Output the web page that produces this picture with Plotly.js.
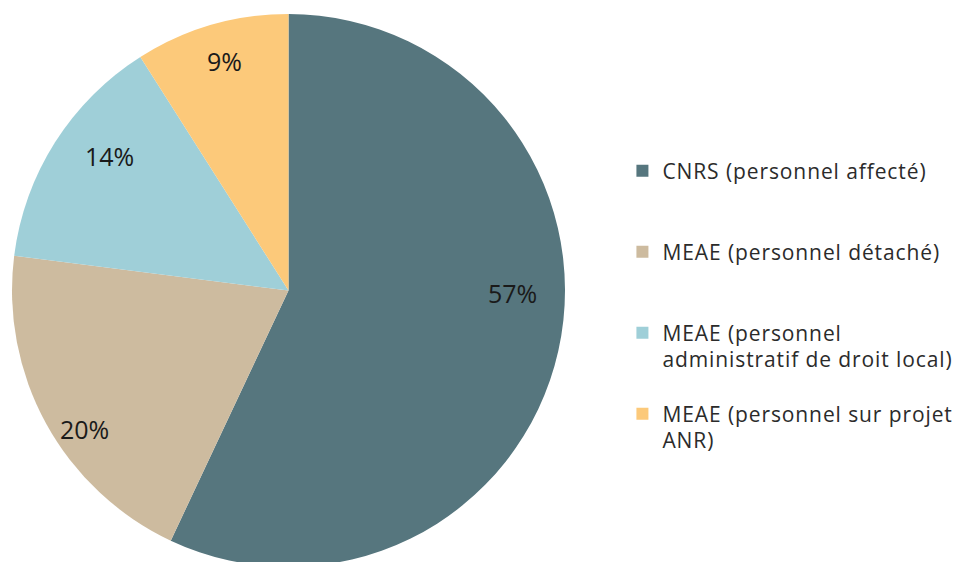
<!DOCTYPE html>
<html>
<head>
<meta charset="utf-8">
<script src="https://cdn.plot.ly/plotly-3.0.1.min.js"></script>
<style>html,body{margin:0;padding:0;background:#fff;overflow:hidden;}#chart{width:968px;height:568px;}</style>
</head>
<body>
<div id="chart"></div>
<script>
const categories = [
  "CNRS (personnel affecté)",
  "MEAE (personnel détaché)",
  "MEAE (personnel<br>administratif de droit local)",
  "MEAE (personnel sur projet<br>ANR)"
];
const values = [57, 20, 14, 9];
const colors = ["#56767e", "#cdbb9f", "#9fcfd8", "#fcc97a"];
const padLines = ["<br>&nbsp;<br>&nbsp;", "<br>&nbsp;<br>&nbsp;", "<br>&nbsp;", ""];

// label placement style (best-fit like): angle shift (deg) and radius fraction
const labelAngleShift = [-12, -5.4, 4.4, 0.7];
const labelRadiusFrac = [0.81, 0.89, 0.81, 0.86];

const W = 968, H = 568, MT = 13;
const domX = [12 / W, 565 / W];

function styledName(c) {
  return c.split("<br>").map(s => '<span style="font-size:21px;letter-spacing:0.9px">' + s + '</span>').join("<br>");
}

const trace = {
  type: "pie",
  labels: categories.map((c, i) => styledName(c) + padLines[i]),
  values: values,
  sort: false,
  direction: "clockwise",
  rotation: 0,
  marker: {colors: colors, line: {width: 0}},
  textinfo: "none",
  hoverinfo: "none",
  domain: {x: domX, y: [0, 1]}
};

// compute label positions from the data
const total = values.reduce((a, b) => a + b, 0);
const cx = (domX[0] + domX[1]) / 2 * W;
const plotH = H - MT;
const cy = MT + plotH / 2;
const R = Math.min((domX[1] - domX[0]) * W, plotH) / 2;
let cum = 0;
const annotations = values.map((v, i) => {
  const mid = (cum + v / 2) / total * 360 + labelAngleShift[i];
  cum += v;
  const a = mid * Math.PI / 180;
  const r = R * labelRadiusFrac[i];
  const px = cx + r * Math.sin(a);
  const py = cy - r * Math.cos(a);
  return {
    xref: "paper", yref: "paper",
    x: px / W, y: 1 - (py - MT) / plotH,
    xanchor: "center", yanchor: "middle",
    text: Math.round(v / total * 100) + "%",
    showarrow: false,
    font: {family: "'Open Sans', sans-serif", size: 25, color: "#1a1a1a"}
  };
});

const layout = {
  width: W, height: H,
  margin: {l: 0, r: 0, t: MT, b: 0},
  paper_bgcolor: "#ffffff",
  showlegend: true,
  annotations: annotations,
  legend: {
    x: 0.643, xanchor: "left", y: 0.751, yanchor: "top",
    valign: "top",
    font: {family: "'Open Sans', sans-serif", size: 20, color: "#2b2b2b"},
    bgcolor: "rgba(0,0,0,0)"
  }
};

Plotly.newPlot("chart", [trace], layout, {displayModeBar: false, staticPlot: true});
</script>
</body>
</html>
